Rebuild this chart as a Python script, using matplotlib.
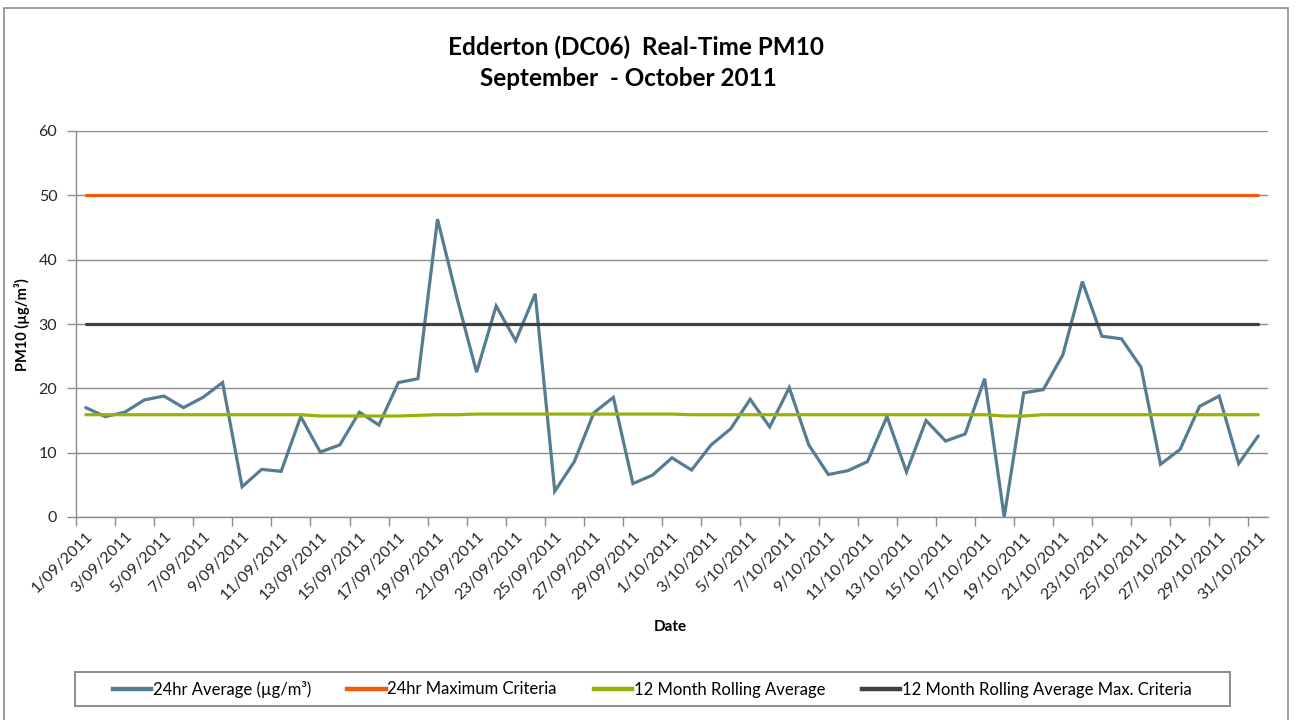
import matplotlib
matplotlib.use("Agg")
import matplotlib.pyplot as plt
from matplotlib.lines import Line2D
from matplotlib.patches import Rectangle
import datetime as dt

# ---- data ----
start = dt.date(2011, 9, 1)
dates = [start + dt.timedelta(days=i) for i in range(61)]
date_labels = [f"{d.day}/{d.month:02d}/{d.year}" for d in dates]

avg_24hr = [17.0, 15.6, 16.3, 18.2, 18.8, 17.0, 18.6, 20.9, 4.7, 7.4,
            7.1, 15.6, 10.1, 11.2, 16.3, 14.3, 20.9, 21.5, 46.3, 34.0,
            22.5, 32.8, 27.4, 34.7, 4.0, 8.6, 16.2, 18.6, 5.2, 6.5,
            9.2, 7.3, 11.2, 13.7, 18.3, 14.0, 20.1, 11.2, 6.6, 7.2,
            8.6, 15.6, 7.0, 15.0, 11.8, 12.9, 21.5, 0.0, 19.3, 19.8,
            25.2, 36.6, 28.1, 27.7, 23.3, 8.2, 10.5, 17.2, 18.8, 8.3,
            12.6]
max_24hr = [50] * 61
rolling_avg = [15.9] * 12 + [15.7] * 5 + [15.8, 15.9, 15.9] + [16.0] * 11 + \
              [15.9] * 16 + [15.7, 15.7] + [15.9] * 12
rolling_max = [30] * 61

series_names = ["24hr Average (\u00b5g/m\u00b3)", "24hr Maximum Criteria",
                "12 Month Rolling Average", "12 Month Rolling Average Max. Criteria"]
colors = ["#557D92", "#F25A0A", "#9BB00A", "#404040"]

plt.rcParams['font.family'] = ['Lato', 'DejaVu Sans']

W, H = 1298, 720
fig = plt.figure(figsize=(W / 100, H / 100), dpi=100)

# outer chart border
fig.patches.append(Rectangle((4 / W, -0.01), (1288 - 4) / W, (H - 8) / H + 0.01,
                             transform=fig.transFigure, fill=False,
                             edgecolor="#8C8C8C", linewidth=1.2))
# legend box
fig.patches.append(Rectangle((75 / W, 1 - 706 / H), (1230 - 75) / W, 34 / H,
                             transform=fig.transFigure, fill=False,
                             edgecolor="#8C8C8C", linewidth=1.4))

ax = fig.add_axes([76 / W, 1 - 517 / H, (1268 - 76) / W, (517 - 131) / H])

x = list(range(1, 62))
for vals, c in zip([avg_24hr, max_24hr, rolling_avg, rolling_max], colors):
    ax.plot(x, vals, color=c, linewidth=2.3, solid_capstyle='round', solid_joinstyle='miter')

ax.set_xlim(0.5, 61.5)
ax.set_ylim(0, 60)
ax.set_yticks(range(0, 61, 10))
ax.grid(axis='y', color="#8C8C8C", linewidth=1.0)
ax.set_axisbelow(True)

for s in ['top', 'right']:
    ax.spines[s].set_visible(False)
for s in ['left', 'bottom']:
    ax.spines[s].set_color("#8C8C8C")
    ax.spines[s].set_linewidth(1.0)

ax.set_xticks(x[::2])
ax.set_xticklabels(date_labels[::2], rotation=45, ha='right', va='top',
                   rotation_mode='anchor', fontsize=11.5, color="#262626")
ax.tick_params(axis='x', which='major', length=0, pad=9)
ax.set_xticks([0.5 + 2 * k for k in range(31)], minor=True)
ax.tick_params(axis='x', which='minor', length=6.5, color="#8C8C8C", width=1.0)
ax.tick_params(axis='y', length=6.5, color="#8C8C8C", width=1.0, labelsize=11.5,
               labelcolor="#262626", pad=7)

ax.set_xlabel("Date", fontsize=11, fontweight='bold')
ax.xaxis.set_label_coords((670 - 76) / (1268 - 76), -(627 - 517) / (517 - 131))
ax.xaxis.label.set_va('center')
ax.set_ylabel("PM10 (\u00b5g/m\u00b3)", fontsize=10.5, fontweight='bold')
ax.yaxis.set_label_coords(-(76 - 22) / (1268 - 76), (517 - 325) / (517 - 131))
ax.yaxis.label.set_va('center')

fig.text(636 / W, 1 - 47 / H, "Edderton (DC06)  Real-Time PM10", ha='center', va='center',
         fontsize=17.5, fontweight='bold')
fig.text(628 / W, 1 - 78 / H, "September  - October 2011", ha='center', va='center',
         fontsize=17.5, fontweight='bold')

handles = [Line2D([0], [0], color=c, linewidth=3.2) for c in colors]
leg = fig.legend(handles, series_names, ncol=4, loc='center',
                 bbox_to_anchor=(652 / W, 1 - 689 / H),
                 fontsize=12, handlelength=2.3, handletextpad=0.1,
                 columnspacing=2.2, frameon=False, borderpad=0.3)

fig.savefig("out.png", dpi=100)
